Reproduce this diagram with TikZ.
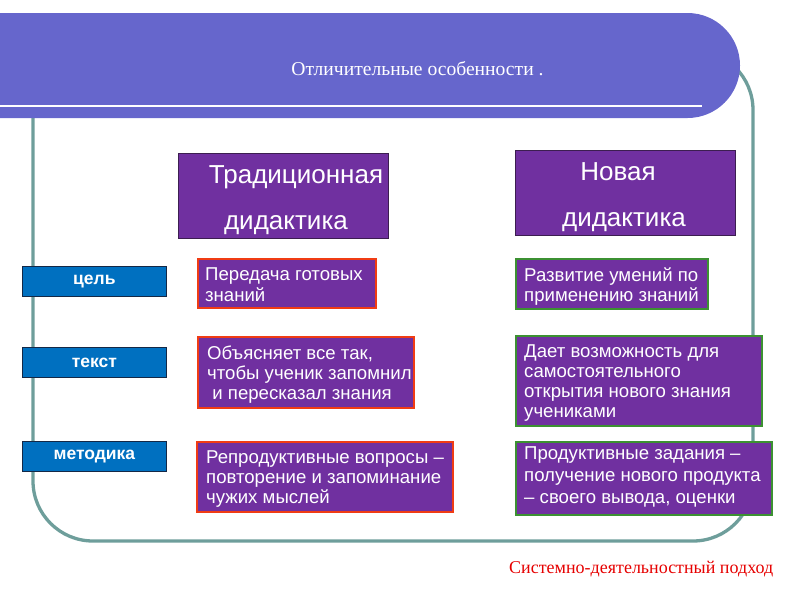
\documentclass[tikz,border=0pt]{standalone}
\usepackage{fontspec}
\setmainfont{Liberation Sans}
\newfontfamily\serifru{Liberation Serif}
\definecolor{bannerc}{RGB}{102,102,204}
\definecolor{framec}{RGB}{110,158,155}
\definecolor{purp}{RGB}{112,48,160}
\definecolor{purpdark}{RGB}{60,30,80}
\definecolor{bluec}{RGB}{0,112,192}
\definecolor{bluedark}{RGB}{20,40,70}
\definecolor{redc}{RGB}{240,60,20}
\definecolor{greenc}{RGB}{60,145,50}
\definecolor{footc}{RGB}{230,0,0}
\begin{document}
\begin{tikzpicture}[x=1pt,y=-1pt,
  framestyle/.style={draw=framec,line width=3.3pt},
  hdrbox/.style={fill=purp,draw=purpdark,line width=0.8pt,inner sep=0pt,anchor=north west},
  redbox/.style={fill=purp,draw=redc,line width=2.2pt,inner sep=0pt,anchor=north west},
  greenbox/.style={fill=purp,draw=greenc,line width=2.2pt,inner sep=0pt,anchor=north west},
  lblbox/.style={fill=bluec,draw=bluedark,line width=0.8pt,inner sep=0pt,anchor=north west,
    text=white,font=\fontsize{17.5}{18}\selectfont\bfseries},
  hdrtxt/.style={text=white,inner sep=0pt,anchor=base,font=\fontsize{26}{28}\selectfont},
  bodytxt/.style={text=white,inner sep=0pt,anchor=north west,align=left,font=\fontsize{18.6}{20}\selectfont},
]
\useasboundingbox (0,0) rectangle (794,595);
% frame
\draw[framestyle,rounded corners=60] (33,50) rectangle (753,541);
% banner
\fill[bannerc] (0,13) -- (687.5,13) .. controls (716.5,13) and (740,36.5) .. (740,65.5)
  .. controls (740,94.5) and (716.5,118) .. (687.5,118) -- (0,118) -- cycle;
\draw[white,line width=2.5pt] (0,106) -- (702,106);
\node[text=white,inner sep=0pt,anchor=base,font=\serifru\fontsize{19.6}{20}\selectfont] (title) at (417.5,75) {Отличительные особенности .};
% header boxes
\node[hdrbox,minimum width=210,minimum height=85] (trad) at (178,153) {};
\node[hdrtxt] (trad1) at (296,183) {Традиционная};
\node[hdrtxt] (trad2) at (286,229) {дидактика};
\node[hdrbox,minimum width=220,minimum height=85] (nov) at (515,150) {};
\node[hdrtxt] (nov1) at (618,180) {Новая};
\node[hdrtxt] (nov2) at (624,226) {дидактика};
% labels
\node[lblbox,minimum width=144,minimum height=30] (l1) at (22,266) {цель};
\node[lblbox,minimum width=144,minimum height=30] (l2) at (22,347) {текст};
\node[lblbox,minimum width=144,minimum height=30] (l3) at (22,441) {методика};
% red boxes
\node[redbox,minimum width=178,minimum height=49] (r1) at (197,258) {};
\node[bodytxt,font=\fontsize{18.6}{18.5}\selectfont] (r1t) at (205,267.5) {\strut Передача готовых\\\strut знаний};
\node[redbox,minimum width=216,minimum height=71] (r2) at (197,336) {};
\node[bodytxt] (r2t) at (207,345) {\strut Объясняет все так,\\\strut чтобы ученик запомнил\\\strut\ и пересказал знания};
\node[redbox,minimum width=256,minimum height=70] (r3) at (196,441) {};
\node[bodytxt] (r3t) at (206,449) {\strut Репродуктивные вопросы –\\\strut повторение и запоминание\\\strut чужих мыслей};
% green boxes
\node[greenbox,minimum width=192,minimum height=50] (g1) at (515,258) {};
\node[bodytxt,font=\fontsize{18.6}{18.5}\selectfont] (g1t) at (524,267) {\strut Развитие умений по\\\strut применению знаний};
\node[greenbox,minimum width=246,minimum height=90] (g2) at (515,335) {};
\node[bodytxt] (g2t) at (524,343) {\strut Дает возможность для\\\strut самостоятельного\\\strut открытия нового знания\\\strut учениками};
\node[greenbox,minimum width=256,minimum height=73] (g3) at (515,441) {};
\node[bodytxt,font=\fontsize{18.6}{22}\selectfont] (g3t) at (524,443.6) {\strut Продуктивные задания –\\\strut получение нового продукта\\\strut – своего вывода, оценки};
% footer
\node[text=footc,inner sep=0pt,anchor=base west,font=\serifru\fontsize{18}{18}\selectfont] (foot) at (509,573) {Системно-деятельностный подход};
\end{tikzpicture}
\end{document}
